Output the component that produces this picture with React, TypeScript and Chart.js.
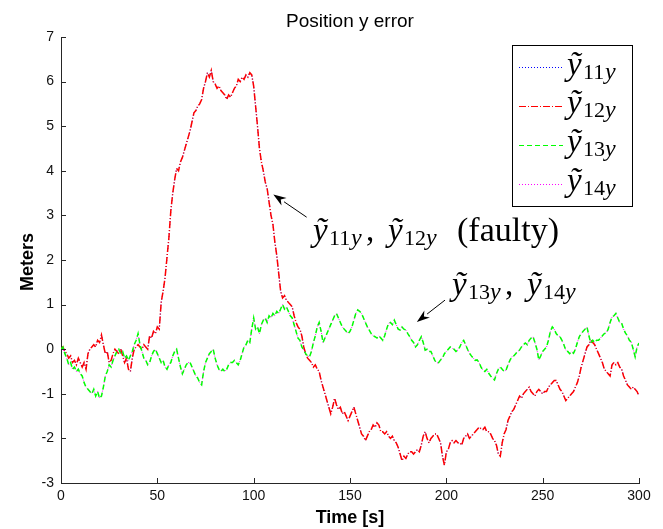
import React, { useEffect, useRef } from 'react';
import { Chart, registerables } from 'chart.js';

Chart.register(...registerables);

// sampling instants [s]
const timeSeconds: number[] = Array.from({ length: 301 }, (_, i) => i);

// position y error of the faulty receivers (y11, y12) [m], one sample per second
const faultyError: number[] = [
  0.0, 0.05, -0.05, -0.1, -0.2, -0.15, -0.3, -0.25, -0.35, -0.2,
  -0.3, -0.4, -0.3, -0.45, -0.1, 0.0, 0.05, 0.1, 0.05, 0.2,
  0.15, 0.32, 0.1, -0.1, -0.05, -0.3, -0.25, -0.1, 0.0, -0.05,
  -0.1, 0.0, -0.15, -0.3, -0.2, -0.45, -0.5, -0.2, 0.0, 0.05,
  0.1, 0.05, 0.0, 0.1, 0.05, 0.0, 0.3, 0.25, 0.4, 0.35,
  0.5, 0.45, 1.05, 1.3, 1.6, 2.05, 2.5, 3.1, 3.5, 3.8,
  4.05, 4.0, 4.2, 4.3, 4.45, 4.6, 4.75, 4.9, 5.1, 5.3,
  5.35, 5.45, 5.5, 5.6, 5.85, 6.0, 6.2, 6.1, 6.25, 6.0,
  5.95, 5.85, 5.9, 5.8, 5.75, 5.7, 5.6, 5.7, 5.65, 5.75,
  5.85, 5.9, 6.05, 6.0, 6.1, 6.05, 6.15, 6.1, 6.2, 6.15,
  5.9, 5.45, 5.0, 4.5, 4.2, 4.0, 3.75, 3.6, 3.3, 3.0,
  2.8, 2.4, 2.1, 1.7, 1.3, 1.15, 1.2, 1.1, 1.05, 1.0,
  0.95, 0.75, 0.6, 0.5, 0.45, 0.3, 0.05, -0.1, -0.2, -0.25,
  -0.3, -0.4, -0.35, -0.45, -0.5, -0.7, -0.85, -1.0, -1.15, -1.3,
  -1.45, -1.3, -1.1, -1.25, -1.35, -1.3, -1.45, -1.4, -1.5, -1.6,
  -1.5, -1.4, -1.3, -1.45, -1.6, -1.75, -1.9, -1.95, -2.05, -1.95,
  -1.85, -1.8, -1.7, -1.75, -1.65, -1.7, -1.85, -1.85, -1.9, -1.85,
  -1.95, -2.0, -1.95, -2.05, -2.1, -2.2, -2.35, -2.5, -2.4, -2.45,
  -2.35, -2.3, -2.3, -2.35, -2.3, -2.25, -2.3, -2.15, -1.95, -1.85,
  -2.0, -2.1, -2.0, -1.95, -1.9, -1.9, -2.0, -2.1, -2.4, -2.6,
  -2.3, -2.25, -2.1, -2.05, -2.1, -2.05, -2.1, -2.1, -2.15, -2.0,
  -1.95, -1.9, -2.0, -1.95, -1.9, -1.85, -1.8, -1.75, -1.78, -1.8,
  -1.75, -1.85, -1.85, -1.9, -2.0, -2.05, -2.15, -2.35, -2.4, -2.1,
  -1.9, -1.8, -1.6, -1.5, -1.4, -1.35, -1.25, -1.15, -1.05, -1.1,
  -1.0, -0.95, -0.9, -0.85, -0.95, -1.0, -1.05, -0.95, -0.9, -0.95,
  -1.0, -0.95, -0.95, -0.85, -0.8, -0.75, -0.7, -0.7, -0.8, -0.9,
  -0.95, -1.05, -1.15, -1.1, -1.05, -1.0, -0.95, -0.85, -0.75, -0.6,
  -0.4, -0.25, -0.1, 0.05, 0.1, 0.2, 0.15, 0.1, 0.0, -0.1,
  -0.2, -0.3, -0.45, -0.5, -0.55, -0.6, -0.35, -0.3, -0.35, -0.3,
  -0.4, -0.45, -0.6, -0.7, -0.8, -0.85, -0.9, -0.85, -0.9, -0.95,
  -1.05,
];

// position y error of the healthy receivers (y13, y14) [m]
const healthyError: number[] = [
  0.0, 0.05, -0.1, -0.2, -0.35, -0.3, -0.45, -0.4, -0.5, -0.45,
  -0.55, -0.6, -0.75, -0.85, -0.9, -0.95, -1.0, -0.9, -1.05, -0.95,
  -1.1, -1.05, -0.85, -0.6, -0.5, -0.35, -0.4, -0.25, -0.15, -0.05,
  0.0, -0.1, -0.05, -0.2, -0.15, -0.25, -0.15, -0.05, 0.1, 0.2,
  0.35, 0.1, -0.05, -0.2, -0.25, -0.35, -0.3, -0.15, -0.05, 0.0,
  -0.1, -0.2, -0.3, -0.25, -0.4, -0.45, -0.35, -0.3, -0.15, -0.05,
  0.0, -0.2, -0.4, -0.55, -0.45, -0.35, -0.3, -0.3, -0.4, -0.5,
  -0.6, -0.65, -0.75, -0.8, -0.5, -0.3, -0.2, -0.1, -0.05, 0.0,
  -0.2, -0.35, -0.45, -0.5, -0.45, -0.5, -0.45, -0.35, -0.3, -0.3,
  -0.25, -0.3, -0.35, -0.25, -0.1, 0.05, 0.1, 0.2, 0.15, 0.45,
  0.7, 0.45, 0.5, 0.35, 0.55, 0.65, 0.7, 0.6, 0.75, 0.7,
  0.8, 0.75, 0.85, 0.8, 0.9, 1.0, 0.9, 0.95, 0.85, 0.75,
  0.7, 0.55, 0.4, 0.25, 0.2, 0.05, -0.02, -0.1, -0.15, -0.17,
  -0.05, 0.15, 0.3, 0.5, 0.6, 0.4, 0.15, 0.25, 0.35, 0.45,
  0.55, 0.65, 0.75, 0.8, 0.7, 0.6, 0.5, 0.45, 0.4, 0.35,
  0.4, 0.5, 0.65, 0.8, 0.88, 0.85, 0.8, 0.7, 0.6, 0.5,
  0.43, 0.35, 0.3, 0.28, 0.25, 0.3, 0.25, 0.2, 0.3, 0.45,
  0.58, 0.6, 0.55, 0.65, 0.55, 0.45, 0.43, 0.5, 0.45, 0.43,
  0.35, 0.28, 0.2, 0.15, 0.05, 0.1, 0.2, 0.28, 0.15, -0.02,
  0.0, -0.05, -0.05, -0.15, -0.25, -0.31, -0.3, -0.24, -0.2, -0.1,
  -0.05, 0.0, 0.05, 0.02, 0.0, -0.05, -0.02, 0.05, 0.15, 0.2,
  0.1, 0.0, -0.09, -0.15, -0.2, -0.25, -0.24, -0.3, -0.4, -0.47,
  -0.5, -0.45, -0.54, -0.6, -0.65, -0.69, -0.55, -0.45, -0.4, -0.45,
  -0.5, -0.47, -0.35, -0.25, -0.17, -0.15, -0.1, -0.05, -0.02, 0.05,
  0.1, 0.14, 0.1, 0.2, 0.25, 0.28, 0.15, 0.0, -0.24, -0.15,
  -0.05, 0.0, 0.05, 0.2, 0.4, 0.5, 0.45, 0.35, 0.3, 0.28,
  0.2, 0.1, -0.02, -0.05, -0.1, -0.05, -0.09, 0.0, 0.15, 0.28,
  0.35, 0.4, 0.45, 0.5, 0.3, 0.14, 0.2, 0.15, 0.2, 0.2,
  0.25, 0.3, 0.35, 0.36, 0.45, 0.6, 0.72, 0.75, 0.8, 0.7,
  0.6, 0.58, 0.45, 0.36, 0.3, 0.2, 0.16, 0.0, -0.17, 0.05,
  0.14,
];

const xTicks: number[] = [0, 50, 100, 150, 200, 250, 300];
const yTicks: number[] = [-3, -2, -1, 0, 1, 2, 3, 4, 5, 6, 7];

const seriesSubs: string[] = ['11', '12', '13', '14'];
const seriesColors: string[] = ['#0000ff', '#ff0000', '#00ff00', '#ff00ff'];
const seriesDashes: number[][] = [[1, 2], [7, 2, 1, 2], [5, 3], [1, 2]];
const seriesWidths: number[] = [1, 1.5, 1.5, 1];
const seriesOrder: number[] = [4, 3, 1, 2];
const seriesValues: number[][] = [faultyError, faultyError, healthyError, healthyError];

const AXIS = '#262626';
const SANS = '"Liberation Sans", Arial, Helvetica, sans-serif';
const TICKFONT = '"Liberation Sans Narrow", "Liberation Sans", Arial, sans-serif';
const SERIF = '"Liberation Serif", "DejaVu Serif", "Times New Roman", serif';

function drawTY(ctx: CanvasRenderingContext2D, x: number, base: number, sub: string) {
  ctx.textAlign = 'left';
  ctx.textBaseline = 'alphabetic';
  ctx.font = `italic 33px ${SERIF}`;
  ctx.fillText('ỹ', x, base);
  ctx.font = `22px ${SERIF}`;
  ctx.fillText(sub, x + 16, base + 4);
  ctx.font = `italic 24px ${SERIF}`;
  ctx.fillText('y', x + 38, base + 4);
}

function drawArrow(ctx: CanvasRenderingContext2D, x0: number, y0: number, x1: number, y1: number) {
  const ang = Math.atan2(y1 - y0, x1 - x0);
  const len = 13;
  const half = 4.5;
  const bx = x1 - len * Math.cos(ang);
  const by = y1 - len * Math.sin(ang);
  ctx.strokeStyle = '#000';
  ctx.lineWidth = 1;
  ctx.setLineDash([]);
  ctx.beginPath();
  ctx.moveTo(x0, y0);
  ctx.lineTo(bx, by);
  ctx.stroke();
  ctx.fillStyle = '#000';
  ctx.beginPath();
  ctx.moveTo(x1, y1);
  ctx.lineTo(bx + half * Math.sin(ang), by - half * Math.cos(ang));
  ctx.lineTo(x1 - (len - 4) * Math.cos(ang), y1 - (len - 4) * Math.sin(ang));
  ctx.lineTo(bx - half * Math.sin(ang), by + half * Math.cos(ang));
  ctx.closePath();
  ctx.fill();
}

const overlayPlugin = {
  id: 'matlabOverlay',
  afterDraw(chart: any) {
    const { ctx, chartArea: a, scales } = chart;
    const sx = scales.x;
    const sy = scales.y;
    ctx.save();

    // inward tick marks
    ctx.strokeStyle = AXIS;
    ctx.lineWidth = 1;
    ctx.setLineDash([]);
    ctx.beginPath();
    xTicks.forEach((v) => {
      const p = Math.round(sx.getPixelForValue(v)) + 0.5;
      ctx.moveTo(p, a.bottom);
      ctx.lineTo(p, a.bottom - 5);
    });
    yTicks.forEach((v) => {
      const p = Math.round(sy.getPixelForValue(v)) + 0.5;
      ctx.moveTo(a.left, p);
      ctx.lineTo(a.left + 5, p);
    });
    ctx.stroke();

    // title and axis titles
    ctx.fillStyle = '#000';
    ctx.textAlign = 'center';
    ctx.textBaseline = 'alphabetic';
    ctx.font = `19px ${SANS}`;
    ctx.fillText('Position y error', (a.left + a.right) / 2, 27);
    ctx.font = `bold 18px ${SANS}`;
    ctx.fillText('Time [s]', (a.left + a.right) / 2, 523);
    ctx.save();
    ctx.translate(33, (a.top + a.bottom) / 2 + 2);
    ctx.rotate(-Math.PI / 2);
    ctx.fillText('Meters', 0, 0);
    ctx.restore();

    // legend
    const lx = 512, ly = 45, lw = 120, lh = 161;
    ctx.fillStyle = '#fff';
    ctx.fillRect(lx, ly, lw, lh);
    ctx.strokeStyle = '#000';
    ctx.lineWidth = 1;
    ctx.strokeRect(lx + 0.5, ly + 0.5, lw, lh);
    seriesSubs.forEach((s, i) => {
      const yy = 67 + i * 38.9;
      ctx.strokeStyle = seriesColors[i];
      ctx.lineWidth = 1;
      ctx.setLineDash(seriesDashes[i]);
      ctx.beginPath();
      ctx.moveTo(519, Math.round(yy) + 0.5);
      ctx.lineTo(563, Math.round(yy) + 0.5);
      ctx.stroke();
      ctx.setLineDash([]);
      ctx.fillStyle = '#000';
      drawTY(ctx, 567, yy + 7.5, s);
    });

    // annotations
    ctx.fillStyle = '#000';
    drawTY(ctx, 313, 241, '11');
    ctx.font = `33px ${SERIF}`;
    ctx.textAlign = 'left';
    ctx.fillText(',', 366, 241);
    drawTY(ctx, 388, 241, '12');
    ctx.font = `34px ${SERIF}`;
    ctx.textAlign = 'left';
    ctx.fillText('(faulty)', 457, 241);

    drawTY(ctx, 452, 295, '13');
    ctx.font = `33px ${SERIF}`;
    ctx.textAlign = 'left';
    ctx.fillText(',', 505, 295);
    drawTY(ctx, 527, 295, '14');

    drawArrow(ctx, sx.getPixelForValue(127.5), sy.getPixelForValue(2.96), sx.getPixelForValue(110.2), sy.getPixelForValue(3.47));
    drawArrow(ctx, sx.getPixelForValue(199.3), sy.getPixelForValue(1.1), sx.getPixelForValue(184.7), sy.getPixelForValue(0.61));

    ctx.restore();
  },
};

export default function App() {
  const canvasRef = useRef<HTMLCanvasElement | null>(null);

  useEffect(() => {
    if (!canvasRef.current) return;
    const datasets = seriesSubs.map((s, i) => ({
      label: `y${s}y`,
      data: timeSeconds.map((t, k) => ({ x: t, y: seriesValues[i][k] })),
      borderColor: seriesColors[i],
      borderWidth: seriesWidths[i],
      borderDash: seriesDashes[i],
      pointRadius: 0,
      fill: false,
      tension: 0,
      order: seriesOrder[i],
    }));
    const chart = new Chart(canvasRef.current, {
      type: 'line',
      data: { datasets },
      options: {
        animation: false,
        responsive: false,
        maintainAspectRatio: false,
        layout: { padding: { left: 0, right: 24, top: 37, bottom: 0 } },
        plugins: {
          legend: { display: false },
          tooltip: { enabled: false },
          title: { display: false },
        },
        scales: {
          x: {
            type: 'linear',
            min: 0,
            max: 300,
            afterFit: (s: any) => { s.height = 46; },
            afterBuildTicks: (s: any) => { s.ticks = xTicks.map((v) => ({ value: v })); },
            grid: { drawOnChartArea: false, drawTicks: false, color: AXIS },
            border: { display: true, color: AXIS, width: 1 },
            ticks: {
              padding: 5,
              color: '#111',
              font: { family: TICKFONT, size: 14 },
              maxRotation: 0,
              autoSkip: false,
            },
          },
          y: {
            type: 'linear',
            min: -3,
            max: 7,
            afterFit: (s: any) => { s.width = 61; },
            afterBuildTicks: (s: any) => { s.ticks = yTicks.map((v) => ({ value: v })); },
            grid: { drawOnChartArea: false, drawTicks: false, color: AXIS },
            border: { display: true, color: AXIS, width: 1 },
            ticks: {
              padding: 7,
              color: '#111',
              font: { family: TICKFONT, size: 14 },
              autoSkip: false,
            },
          },
        },
      },
      plugins: [overlayPlugin],
    });
    return () => chart.destroy();
  }, []);

  return (
    <div style={{ position: 'absolute', left: 0, top: 0, width: 663, height: 529, background: '#fff' }}>
      <canvas ref={canvasRef} width={663} height={529} />
    </div>
  );
}
